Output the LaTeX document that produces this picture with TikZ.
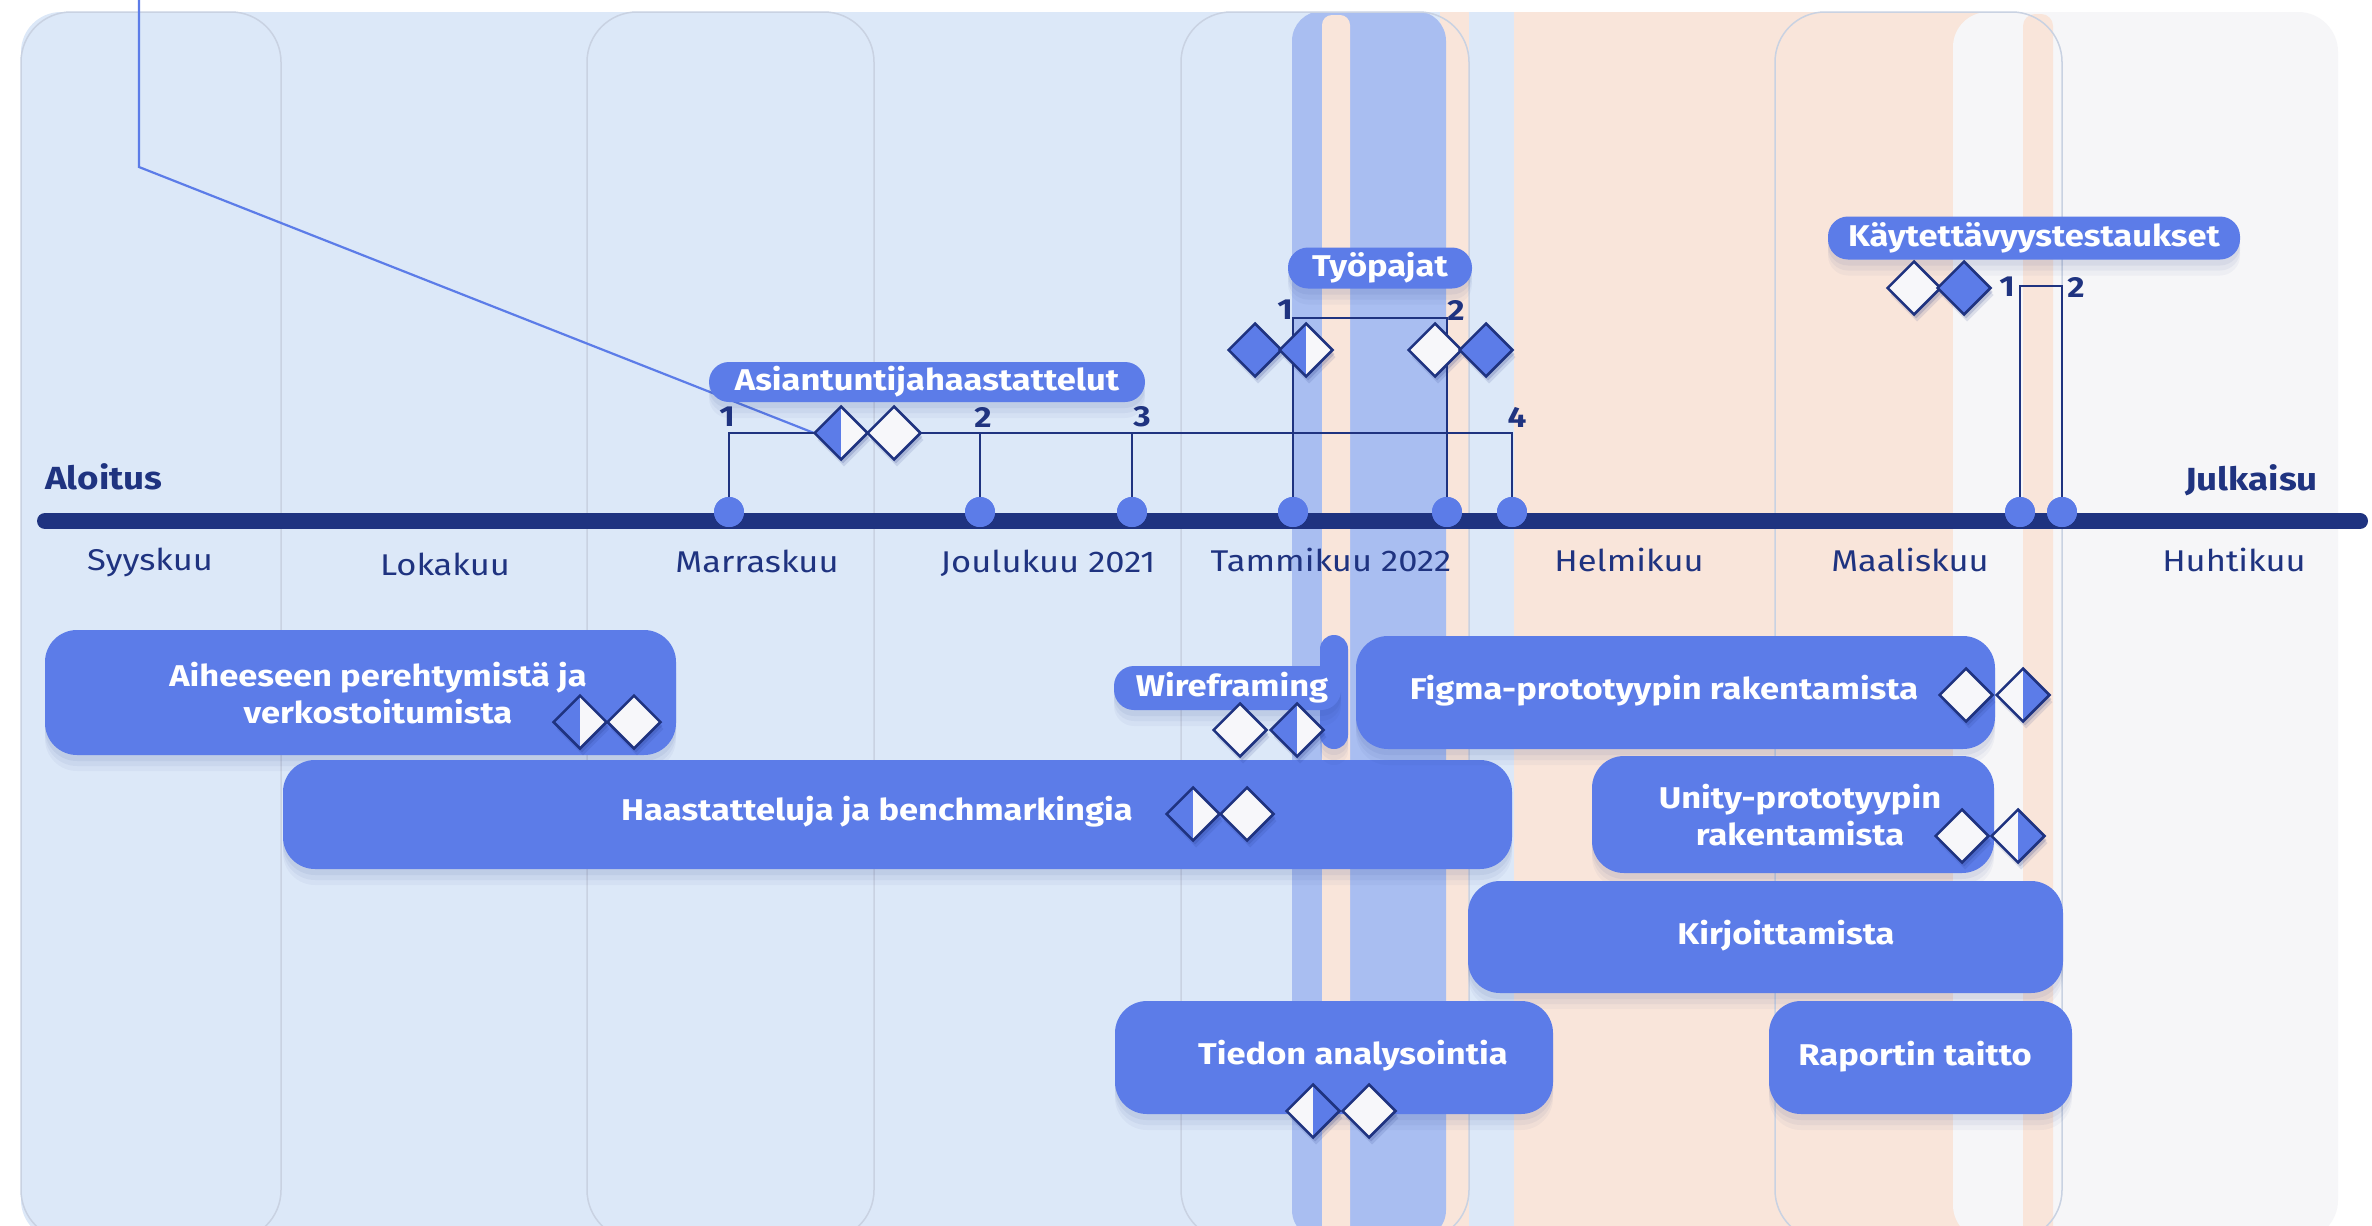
\documentclass[tikz,border=0pt]{standalone}
\usepackage{fontspec}
\setmainfont{Fira Sans}[FakeStretch=1.15]
\usetikzlibrary{shapes.geometric,shadows}
\definecolor{panelblue}{HTML}{DCE8F8}
\definecolor{stripeblue}{HTML}{A9BEF1}
\definecolor{peach}{HTML}{F9E5DA}
\definecolor{lgray}{HTML}{F6F6F8}
\definecolor{mainblue}{HTML}{5C7CE8}
\definecolor{navy}{HTML}{1F3380}
\definecolor{cardline}{HTML}{C9D2E2}
\definecolor{dwhite}{HTML}{F7F7FA}
\tikzset{
  dotnode/.style={circle, fill=mainblue, minimum size=30, inner sep=0},
  stemline/.style={navy, line width=2},
  dia/.style={diamond, draw=navy, line width=2.5, minimum width=54, minimum height=54, inner sep=0, fill=dwhite,
    drop shadow={shadow xshift=3pt, shadow yshift=-7pt, opacity=0.12, fill=navy},
    drop shadow={shadow xshift=2pt, shadow yshift=-4pt, opacity=0.18, fill=navy}},
  dw/.style={dia},
  db/.style={dia, fill=mainblue},
  dhl/.style={dia, path picture={\fill[mainblue] (path picture bounding box.north) -- (path picture bounding box.south) -- (path picture bounding box.south west) -- (path picture bounding box.north west) -- cycle;}},
  dhr/.style={dia, path picture={\fill[mainblue] (path picture bounding box.north) -- (path picture bounding box.south) -- (path picture bounding box.south east) -- (path picture bounding box.north east) -- cycle;}},
  softshadow/.style={
    drop shadow={shadow xshift=0pt, shadow yshift=-16pt, opacity=0.04, fill=navy},
    drop shadow={shadow xshift=0pt, shadow yshift=-11pt, opacity=0.05, fill=navy},
    drop shadow={shadow xshift=0pt, shadow yshift=-6pt, opacity=0.06, fill=navy}},
  pill/.style={rectangle, rounded corners=20, fill=mainblue, text=white, inner sep=0,
    font=\bfseries\fontsize{30}{36}\selectfont, softshadow},
  bar/.style={rectangle, rounded corners=32, fill=mainblue, inner sep=0, softshadow},
  bartext/.style={text=white, font=\bfseries\fontsize{30}{37}\selectfont, align=center, inner sep=0},
  numtext/.style={text=navy, font=\bfseries\fontsize{29}{34}\selectfont, inner sep=0},
  monthtext/.style={text=navy, font=\fontsize{30}{36}\selectfont, inner sep=0},
  endtext/.style={text=navy, font=\bfseries\fontsize{32}{38}\selectfont, inner sep=0},
}
\begin{document}
\begin{tikzpicture}[x=1pt,y=-1pt]
\useasboundingbox (0,0) rectangle (2372,1226);
\fill[white] (0,0) rectangle (2372,1226);
% background panel
\begin{scope}
\clip[rounded corners=40] (21,12) rectangle (2338,1240);
\fill[panelblue] (0,0) rectangle (1514,1300);
\fill[peach] (1514,0) rectangle (1980,1300);
\fill[lgray, rounded corners=35] (1953,12) rectangle (2400,1240);
\fill[peach, rounded corners=12] (2023,14) rectangle (2053,1238);
\fill[peach] (1440,12) rectangle (1469,1240);
\fill[stripeblue, rounded corners=30] (1292,11) rectangle (1446,1240);
\fill[peach, rounded corners=10] (1322,15) rectangle (1350,1240);
\end{scope}
\foreach \a/\b in {21/281, 587/874, 1181/1469, 1775/2062}
  \draw[cardline, line width=1.5, rounded corners=50] (\a,12) rectangle (\b,1240);

% diagonal pointer line
\coordinate (ptop) at (139,-5);
\coordinate (pbend) at (139,167);
\coordinate (pend) at (814,433);
\draw[mainblue, line width=2.2] (ptop) -- (pbend) -- (pend);

% timeline
\coordinate (tl0) at (45,521);
\coordinate (tl1) at (2360,521);
\draw[navy, line width=16, line cap=round] (tl0) -- (tl1);

\node[endtext, anchor=west] (aloitus) at (45,477) {Aloitus};
\node[endtext, anchor=east] (julkaisu) at (2318,480) {Julkaisu};

% months
\node[monthtext] (m1) at (150,562) {Syyskuu};
\node[monthtext] (m2) at (445,564) {Lokakuu};
\node[monthtext] (m3) at (757,561) {Marraskuu};
\node[monthtext] (m4) at (1048,563) {Joulukuu 2021};
\node[monthtext] (m5) at (1331,560) {Tammikuu 2022};
\node[monthtext] (m6) at (1629,560) {Helmikuu};
\node[monthtext] (m7) at (1910,560) {Maaliskuu};
\node[monthtext] (m8) at (2234,560) {Huhtikuu};

% bracket corners
\coordinate (ab1) at (729,433);
\coordinate (ab2) at (980,433);
\coordinate (ab3) at (1132,433);
\coordinate (ab4) at (1512,433);
\coordinate (tb1) at (1293,318);
\coordinate (tb2) at (1447,318);
\coordinate (kb1) at (2020,286);
\coordinate (kb2) at (2062,286);

\node[dotnode] (ad1) at (729,512) {};
\node[dotnode] (ad2) at (980,512) {};
\node[dotnode] (ad3) at (1132,512) {};
\node[dotnode] (ad4) at (1512,512) {};
\node[dotnode] (td1) at (1293,512) {};
\node[dotnode] (td2) at (1447,512) {};
\node[dotnode] (kd1) at (2020,512) {};
\node[dotnode] (kd2) at (2062,512) {};

\draw[stemline] (ad1.center) -- (ab1) -- (ab4) -- (ad4.center);
\draw[stemline] (ad2.center) -- (ab2);
\draw[stemline] (ad3.center) -- (ab3);
\draw[stemline] (td1.center) -- (tb1) -- (tb2) -- (td2.center);
\draw[stemline] (kd1.center) -- (kb1) -- (kb2) -- (kd2.center);
% redraw dots over stems
\foreach \n in {ad1,ad2,ad3,ad4,td1,td2,kd1,kd2}
  \fill[mainblue] (\n) circle[radius=15];

% numbers
\node[numtext] (an1) at (727,417) {1};
\node[numtext] (an2) at (983,417) {2};
\node[numtext] (an3) at (1142,417) {3};
\node[numtext] (an4) at (1517,417) {4};
\node[numtext] (tn1) at (1285,310) {1};
\node[numtext] (tn2) at (1456,310) {2};
\node[numtext] (kn1) at (2007,287) {1};
\node[numtext] (kn2) at (2076,287) {2};

% pills
\node[pill, minimum width=436, minimum height=40] (asi) at (927,382) {Asiantuntijahaastattelut};
\node[pill, minimum width=184, minimum height=41] (tyo) at (1380,268) {Työpajat};
\node[pill, minimum width=412, minimum height=43] (kay) at (2034,238) {Käytettävyystestaukset};

% milestone diamonds
\node[dhl] (a1) at (841,433) {};
\node[dw] (a2) at (894,433) {};
\node[db] (t1) at (1255,350) {};
\node[dhl] (t2) at (1306,350) {};
\node[dw] (t3) at (1435,350) {};
\node[db] (t4) at (1486,350) {};
\node[dw] (k1) at (1914,288) {};
\node[db] (k2) at (1964,288) {};

% task bars
\node[bar, minimum width=631, minimum height=125] (aih) at (360.5,692.5) {};
\node[bar, minimum width=1229, minimum height=109] (haa) at (897.5,814.5) {};
\node[bar, rounded corners=14, minimum width=28, minimum height=114] (wirv) at (1334,692) {};
\node[pill, minimum width=227, minimum height=44] (wir) at (1227.5,688) {};
\node[bar, minimum width=639, minimum height=113] (fig) at (1675.5,692.5) {};
\node[bar, minimum width=402, minimum height=117] (uni) at (1793,814.5) {};
\node[bar, minimum width=595, minimum height=112] (kir) at (1765.5,937) {};
\node[bar, minimum width=438, minimum height=113] (tie) at (1334,1057.5) {};
\node[bar, minimum width=303, minimum height=113] (rap) at (1920.5,1057.5) {};

\node[bartext] (aiht) at (378,693) {Aiheeseen perehtymistä ja\\verkostoitumista};
\node[bartext] (haat) at (877,812) {Haastatteluja ja benchmarkingia};
\node[bartext] (wirt) at (1232,688) {Wireframing};
\node[bartext] (figt) at (1664,691) {Figma-prototyypin rakentamista};
\node[bartext] (unit) at (1800,815) {Unity-prototyypin\\rakentamista};
\node[bartext] (kirt) at (1786,936) {Kirjoittamista};
\node[bartext] (tiet) at (1353,1056) {Tiedon analysointia};
\node[bartext] (rapt) at (1915,1057) {Raportin taitto};

% bar diamonds
\node[dhl] (aihd1) at (580,722) {};
\node[dw] (aihd2) at (634,722) {};
\node[dhl] (haad1) at (1193,814) {};
\node[dw] (haad2) at (1247,814) {};
\node[dw] (wird1) at (1240,730) {};
\node[dhl] (wird2) at (1297,730) {};
\node[dw] (figd1) at (1966,695) {};
\node[dhr] (figd2) at (2023,695) {};
\node[dw] (unid1) at (1962,836) {};
\node[dhr] (unid2) at (2018,836) {};
\node[dhr] (tied1) at (1313,1111) {};
\node[dw] (tied2) at (1369,1111) {};
\end{tikzpicture}
\end{document}
